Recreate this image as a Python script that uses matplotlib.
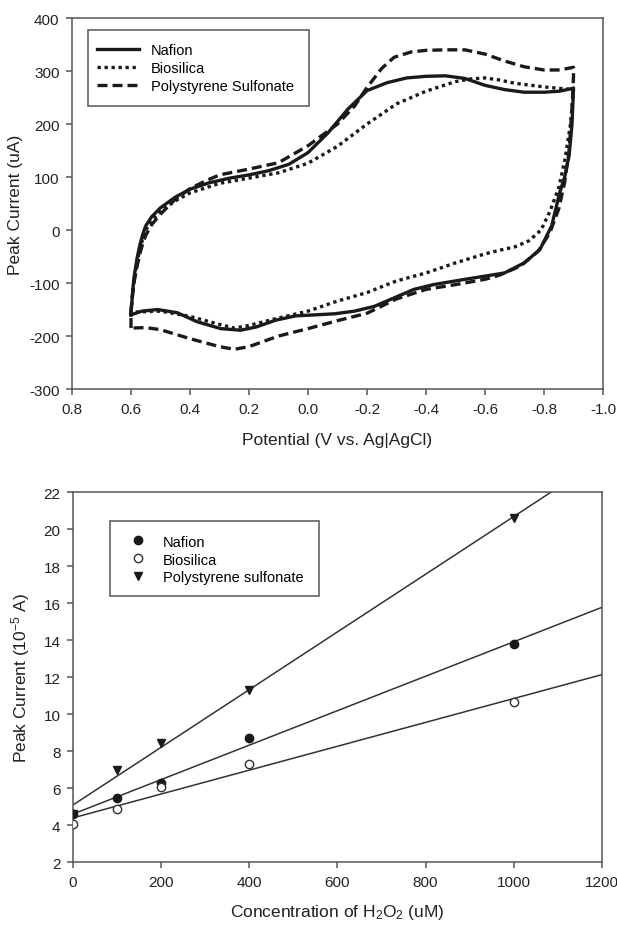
import numpy as np
import matplotlib
matplotlib.use("Agg")
import matplotlib.pyplot as plt
from matplotlib.patches import Rectangle

plt.rcParams['font.family'] = ['Liberation Sans', 'DejaVu Sans']
plt.rcParams['axes.unicode_minus'] = False
plt.rcParams['mathtext.default'] = 'regular'

# --- cyclic voltammograms (potential V, current uA), closed loops ---
nafion_E = [0.60, 0.595, 0.59, 0.58, 0.57, 0.56, 0.55, 0.53, 0.50, 0.45, 0.40, 0.336, 0.265, 0.20,
            0.133, 0.065, 0.0, -0.069, -0.135, -0.20, -0.268, -0.335, -0.40, -0.465, -0.532,
            -0.60, -0.666, -0.733, -0.80, -0.853, -0.896, -0.90,
            -0.898, -0.895, -0.885, -0.87, -0.853, -0.826, -0.786, -0.733, -0.666, -0.60, -0.532,
            -0.425, -0.359, -0.292, -0.225, -0.158, -0.091, -0.025, 0.042, 0.109, 0.176, 0.229,
            0.296, 0.376, 0.443, 0.51, 0.563, 0.60]
nafion_I = [-160, -120, -90, -55, -28, -8, 8, 25, 42, 62, 77, 89, 98, 104,
            112, 124, 146, 184, 228, 263, 278, 287, 290, 291, 286,
            273, 265, 260, 260, 262, 267, 268,
            240, 200, 140, 100, 70, 8, -37, -62, -81, -87, -93,
            -103, -112, -128, -144, -153, -158, -160, -162, -170, -183, -189,
            -186, -173, -156, -150, -153, -160]

bio_E = [0.60, 0.595, 0.59, 0.58, 0.57, 0.56, 0.55, 0.53, 0.50, 0.45, 0.40, 0.30, 0.20, 0.10,
         0.0, -0.10, -0.20, -0.30, -0.40, -0.50, -0.55, -0.60, -0.65, -0.70, -0.80, -0.90,
         -0.89, -0.87, -0.85, -0.82, -0.79, -0.75, -0.70, -0.65, -0.60, -0.50, -0.40, -0.30,
         -0.20, -0.10, 0.0, 0.10, 0.20, 0.25, 0.30, 0.40, 0.50, 0.60]
bio_I = [-155, -122, -97, -62, -36, -16, 0, 18, 35, 55, 70, 88, 98, 108,
         126, 158, 200, 238, 262, 280, 285, 287, 283, 277, 270, 265,
         200, 130, 80, 35, 0, -20, -32, -38, -45, -62, -81, -96,
         -118, -134, -153, -166, -180, -185, -178, -163, -153, -155]

pss_E = [0.60, 0.60, 0.595, 0.59, 0.58, 0.57, 0.56, 0.55, 0.53, 0.50, 0.45, 0.40, 0.35, 0.30,
         0.20, 0.10, 0.0, -0.10, -0.158, -0.20, -0.25, -0.292, -0.35, -0.40, -0.465, -0.532,
         -0.60, -0.666, -0.733, -0.80, -0.853, -0.90,
         -0.90, -0.895, -0.885, -0.87, -0.85, -0.82, -0.78, -0.72, -0.65, -0.60, -0.50, -0.40,
         -0.30, -0.20, -0.10, 0.0, 0.10, 0.20, 0.25, 0.30, 0.40, 0.50, 0.55, 0.60]
pss_I = [-185, -150, -125, -100, -70, -45, -25, -10, 10, 30, 58, 78, 92, 104,
         115, 127, 159, 200, 234, 269, 305, 326, 336, 339, 340, 340,
         332, 319, 308, 302, 302, 307,
         290, 230, 150, 90, 40, -5, -40, -68, -85, -93, -103, -112,
         -130, -157, -171, -186, -200, -220, -225, -220, -205, -188, -184, -185]

# --- calibration data: concentration (uM) vs peak current (1e-5 A) ---
conc = [0, 100, 200, 400, 1000]
nafion_pk = [4.6, 5.45, 6.25, 8.7, 13.8]
bio_pk = [4.06, 4.85, 6.04, 7.3, 10.65]
pss_pk = [4.6, 7.0, 8.42, 11.3, 20.6]

fig = plt.figure(figsize=(6.17, 9.28), dpi=100)
ink = '#1a1a1a'
frame = '#555555'
txt = '#222222'

def style(ax):
    for s in ax.spines.values():
        s.set_color(frame)
        s.set_linewidth(1.1)
    ax.tick_params(direction='out', length=4, width=1.1, color=frame, pad=5,
                   labelsize=11, labelcolor=txt, top=False, right=False)

def legend_box(ax, x0, y0, x1, y1):
    ax.add_patch(Rectangle((x0, y0), x1 - x0, y1 - y0, transform=ax.transAxes,
                           fill=False, edgecolor=frame, lw=1.1, zorder=5))

# top: CV
ax1 = fig.add_axes([0.1167, 0.5797, 0.8606, 0.3998])
lw = 2.4
ax1.plot(nafion_E, nafion_I, '-', color=ink, lw=lw, label='Nafion')
ax1.plot(bio_E, bio_I, color=ink, lw=lw, linestyle=(0, (1, 1.1)), label='Biosilica')
ax1.plot(pss_E, pss_I, color=ink, lw=lw, linestyle=(0, (3, 1.5)), label='Polystyrene Sulfonate')
ax1.set_xlim(0.8, -1.0)
ax1.set_ylim(-300, 400)
xt = np.round(np.arange(0.8, -1.01, -0.2), 1)
ax1.set_xticks(xt)
ax1.set_xticklabels([f'{v + 0.0:.1f}' for v in xt])
ax1.set_yticks(np.arange(-300, 401, 100))
ax1.set_xlabel('Potential (V vs. Ag|AgCl)', fontsize=12.5, color=txt, labelpad=12)
ax1.set_ylabel('Peak Current (uA)', fontsize=12.5, color=txt, labelpad=4)
style(ax1)
ax1.legend(loc='center left', bbox_to_anchor=(0.047, 0.865), fontsize=10.5,
           frameon=False, handlelength=2.9, borderpad=0, borderaxespad=0,
           labelspacing=0.3, handletextpad=0.8)
legend_box(ax1, 0.030, 0.763, 0.446, 0.968)

# bottom: calibration
ax2 = fig.add_axes([0.1183, 0.070, 0.857, 0.3987])
xfit = np.array([0, 1200])
for y in (nafion_pk, bio_pk, pss_pk):
    k, b = np.polyfit(conc, y, 1)
    ax2.plot(xfit, k * xfit + b, '-', color='#333333', lw=1.1, zorder=2)
ax2.plot(conc, nafion_pk, 'o', ms=6, mfc=ink, mec=ink, ls='none', label='Nafion', zorder=3)
ax2.plot(conc, bio_pk, 'o', ms=6, mfc='white', mec='#333333', mew=1.0, ls='none', label='Biosilica', zorder=3)
ax2.plot(conc, pss_pk, 'v', ms=6, mfc=ink, mec=ink, ls='none', label='Polystyrene sulfonate', zorder=3)
ax2.set_xlim(0, 1200)
ax2.set_ylim(2, 22)
ax2.set_xticks(np.arange(0, 1201, 200))
ax2.set_yticks(np.arange(2, 23, 2))
ax2.set_xlabel('Concentration of H$_2$O$_2$ (uM)', fontsize=12.5, color=txt, labelpad=10)
ax2.set_ylabel('Peak Current (10$^{-5}$ A)', fontsize=12.5, color=txt, labelpad=8)
style(ax2)
ax2.legend(loc='center left', bbox_to_anchor=(0.110, 0.8176), fontsize=10.5,
           frameon=False, handlelength=1.0, borderpad=0, borderaxespad=0,
           labelspacing=0.27, handletextpad=1.2)
legend_box(ax2, 0.070, 0.719, 0.465, 0.922)

fig.savefig('out.png', dpi=100)
